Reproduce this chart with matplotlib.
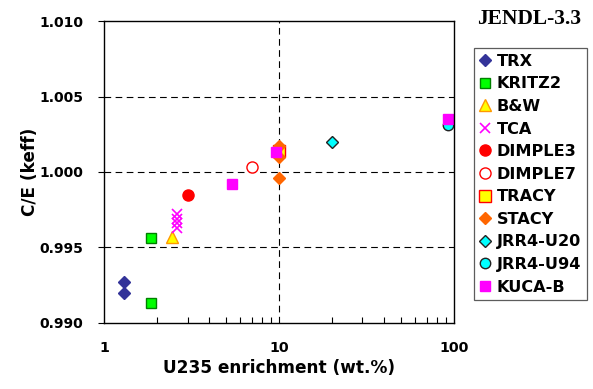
import numpy as np
import matplotlib
matplotlib.use("Agg")
import matplotlib.pyplot as plt
from matplotlib.ticker import FixedLocator, NullFormatter

# enrichment (wt.%) and C/E values per facility
trx_x = [1.3, 1.3]
trx_y = [0.9927, 0.9920]
kritz_x = [1.86, 1.86]
kritz_y = [0.9956, 0.9913]
bw_x = [2.46]
bw_y = [0.9957]
tca_x = [2.6, 2.6, 2.6, 2.6]
tca_y = [0.9963, 0.9966, 0.9969, 0.9972]
dimple3_x = [3.0]
dimple3_y = [0.9985]
dimple7_x = [7.0]
dimple7_y = [1.0003]
tracy_x = [10.0]
tracy_y = [1.0014]
stacy_x = [10.0, 10.0, 10.0]
stacy_y = [1.0017, 1.0010, 0.9996]
jrr20_x = [20.0]
jrr20_y = [1.0020]
jrr94_x = [93.0]
jrr94_y = [1.0031]
kuca_x = [5.4, 9.6, 93.0]
kuca_y = [0.9992, 1.0013, 1.0035]

plt.rcParams['font.family'] = ['DejaVu Sans']
plt.rcParams['font.weight'] = 'bold'

fig = plt.figure(figsize=(5.93, 3.89), dpi=100)
ax = fig.add_axes([0.1754, 0.1697, 0.5902, 0.7763])

ax.plot(trx_x, trx_y, 'D', color='#333399', ms=6.5, mec='#333399', label='TRX')
ax.plot(kritz_x, kritz_y, 's', color='#00FF00', mec='#008000', ms=7.5, mew=1, label='KRITZ2')
ax.plot(bw_x, bw_y, '^', color='#FFFF00', mec='#FF9900', ms=8, mew=1, label='B&W')
ax.plot(tca_x, tca_y, 'x', color='#FF00FF', ms=7, mew=1.2, label='TCA')
ax.plot(dimple3_x, dimple3_y, 'o', color='#FF0000', ms=8, label='DIMPLE3')
ax.plot(dimple7_x, dimple7_y, 'o', mfc='white', mec='#FF0000', ms=8, mew=1, label='DIMPLE7')
ax.plot(tracy_x, tracy_y, 's', color='#FFFF00', mec='#FF0000', ms=9, mew=1, label='TRACY')
ax.plot(stacy_x, stacy_y, 'D', color='#FF6600', mec='#FF6600', ms=6, label='STACY')
ax.plot(jrr20_x, jrr20_y, 'D', color='#00FFFF', mec='#222222', ms=6, mew=1, label='JRR4-U20')
ax.plot(jrr94_x, jrr94_y, 'o', color='#00FFFF', mec='#222222', ms=7.5, mew=1, label='JRR4-U94')
ax.plot(kuca_x, kuca_y, 's', color='#FF00FF', mec='#FF00FF', ms=6.5, label='KUCA-B')

ax.set_xscale('log')
ax.set_xlim(1, 100)
ax.set_ylim(0.990, 1.010)
ax.set_yticks([0.990, 0.995, 1.000, 1.005, 1.010])
ax.set_yticklabels(['0.990', '0.995', '1.000', '1.005', '1.010'])
ax.set_xticks([1, 10, 100])
ax.set_xticklabels(['1', '10', '100'])
ax.xaxis.set_minor_locator(FixedLocator([2, 3, 4, 5, 6, 7, 8, 9, 20, 30, 40, 50, 60, 70, 80, 90]))
ax.xaxis.set_minor_formatter(NullFormatter())

for v in [0.995, 1.000, 1.005]:
    ax.axhline(v, color='black', ls=(0, (6, 4)), lw=0.8, zorder=0)
ax.axvline(10, color='black', ls=(0, (6, 4)), lw=0.8, zorder=0)

ax.tick_params(axis='y', direction='out', length=4, width=0.8, pad=11, labelsize=10)
ax.tick_params(axis='x', which='major', direction='in', length=0, pad=13, labelsize=10.3)
ax.tick_params(axis='x', which='minor', direction='in', length=4, width=0.8)
for s in ax.spines.values():
    s.set_linewidth(1.0)

ax.set_xlabel('U235 enrichment (wt.%)', fontsize=12.2, fontweight='bold', labelpad=3)
ax.set_ylabel('C/E (keff)', fontsize=12.2, fontweight='bold', labelpad=0)

fig.text(0.892, 0.95, 'JENDL-3.3', family='Liberation Serif', fontsize=15.5,
         fontweight='bold', ha='center', va='center')

leg = ax.legend(loc='upper left', bbox_to_anchor=(1.057, 0.91), frameon=True,
                fancybox=False, edgecolor='#333333', fontsize=11.6, handlelength=0.7,
                handletextpad=0.35, labelspacing=0.47, borderpad=0.35, borderaxespad=0,
                numpoints=1)
leg.get_frame().set_linewidth(0.9)

fig.savefig('out.png', dpi=100)
